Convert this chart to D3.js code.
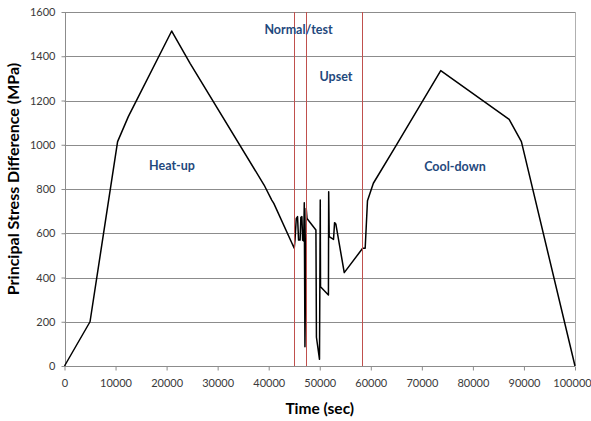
<!DOCTYPE html>
<html>
<head>
<meta charset="utf-8">
<script src="https://cdn.jsdelivr.net/npm/d3@7"></script>
<style>
  body { margin: 0; background: #fff; }
  svg { display: block; }
</style>
</head>
<body>
<div id="chart"></div>
<script>
// stress history
const timeSec = [
  0, 5000, 10400, 12500, 21000, 24600, 39100, 40600, 41000, 45000,
  45150, 45400, 45650, 45850, 46150, 46300, 46500, 46650, 46850, 46970,
  47100, 47350, 47500, 49250, 49350, 49950, 50100, 50150, 51700, 51750,
  51850, 52700, 52900, 53150, 54800, 58400, 58900, 59350, 60500, 64800,
  73700, 87100, 89500, 100000,
]
const stressMPa = [
  0, 200, 1014, 1127, 1514, 1368, 818, 750, 735, 532,
  569, 667, 675, 569, 569, 672, 675, 569, 565, 738,
  87, 712, 667, 615, 130, 30, 750, 358, 321, 788,
  585, 572, 648, 642, 422, 532, 532, 747, 826, 990,
  1335, 1115, 1014, 0,
]

const phaseLines = [45000, 47400, 58400]
const phaseLabels = ['Heat-up', 'Normal/test', 'Upset', 'Cool-down']
const labelTime = [21060, 45840, 53180, 76490]
const labelStress = [886, 1500, 1288, 881]

const xTicks = d3.range(0, 100001, 10000)
const yTicks = d3.range(0, 1601, 200)

const width = 591
const height = 421
const margin = { top: 12, right: 16, bottom: 55, left: 64.5 }

const svg = d3
  .select('#chart')
  .append('svg')
  .attr('width', width)
  .attr('height', height)

const x = d3.scaleLinear().domain([0, 100000]).range([margin.left, width - margin.right])
const y = d3.scaleLinear().domain([0, 1600]).range([height - margin.bottom, margin.top])

const gridColor = '#8c8c8c'
const font = 'Lato, "Open Sans", sans-serif'

// horizontal grid
svg
  .append('g')
  .selectAll('line')
  .data(yTicks)
  .join('line')
  .attr('x1', x(0))
  .attr('x2', x(100000))
  .attr('y1', d => Math.round(y(d)) + 0.5)
  .attr('y2', d => Math.round(y(d)) + 0.5)
  .attr('stroke', gridColor)
  .attr('stroke-width', 1)

// right border
svg
  .append('line')
  .attr('x1', Math.round(x(100000)) + 0.5)
  .attr('x2', Math.round(x(100000)) + 0.5)
  .attr('y1', y(1600))
  .attr('y2', y(0))
  .attr('stroke', '#b0b0b0')

const xAxis = svg
  .append('g')
  .attr('transform', `translate(0, ${Math.round(y(0)) + 0.5})`)
  .call(d3.axisBottom(x).tickValues(xTicks).tickFormat(d3.format('d')).tickSize(4).tickPadding(9))

const yAxis = svg
  .append('g')
  .attr('transform', `translate(${Math.round(x(0)) + 0.5}, 0)`)
  .call(d3.axisLeft(y).tickValues(yTicks).tickFormat(d3.format('d')).tickSize(4).tickPadding(6))

;[xAxis, yAxis].forEach(ax => {
  ax.select('.domain').attr('stroke', gridColor)
  ax.selectAll('.tick line').attr('stroke', gridColor)
  ax.selectAll('.tick text')
    .attr('fill', '#3a3a3a')
    .style('font-family', font)
    .style('font-size', '11px')
})
xAxis.select('.domain').attr('d', `M${x(0)},0H${x(100000)}`)
yAxis.select('.domain').attr('d', `M0,${y(0)}V${y(1600)}`)
// last x label sits against the right edge, keep it inside
xAxis.selectAll('.tick text').filter(d => d === 100000).attr('dx', -3)

// stress curve
const pts = timeSec.map((t, i) => [t, stressMPa[i]])
svg
  .append('path')
  .datum(pts)
  .attr('fill', 'none')
  .attr('stroke', '#000')
  .attr('stroke-width', 1.5)
  .attr('stroke-linejoin', 'round')
  .attr('d', d3.line().x(d => x(d[0])).y(d => y(d[1])))

// phase boundaries
svg
  .append('g')
  .attr('class', 'phase-lines')
  .selectAll('line')
  .data(phaseLines)
  .join('line')
  .attr('x1', d => Math.floor(x(d)) + 0.5)
  .attr('x2', d => Math.floor(x(d)) + 0.5)
  .attr('y1', y(1600))
  .attr('y2', y(0))
  .attr('stroke', '#c0504d')
  .attr('stroke-width', 1)

// phase annotations
svg
  .append('g')
  .selectAll('text')
  .data(phaseLabels)
  .join('text')
  .attr('x', (d, i) => x(labelTime[i]))
  .attr('y', (d, i) => y(labelStress[i]))
  .attr('text-anchor', 'middle')
  .attr('fill', '#1f497d')
  .style('font-family', font)
  .style('font-weight', 'bold')
  .style('font-size', '12.5px')
  .text(d => d)

// axis titles
svg
  .append('text')
  .attr('x', (x(0) + x(100000)) / 2)
  .attr('y', 414)
  .attr('text-anchor', 'middle')
  .style('font-family', font)
  .style('font-weight', 'bold')
  .style('font-size', '15.5px')
  .text('Time (sec)')

svg
  .append('text')
  .attr('transform', `translate(19, ${(y(0) + y(1600)) / 2 - 10}) rotate(-90)`)
  .attr('text-anchor', 'middle')
  .style('font-family', font)
  .style('font-weight', 'bold')
  .style('font-size', '16px')
  .text('Principal Stress Difference (MPa)')
</script>
</body>
</html>
